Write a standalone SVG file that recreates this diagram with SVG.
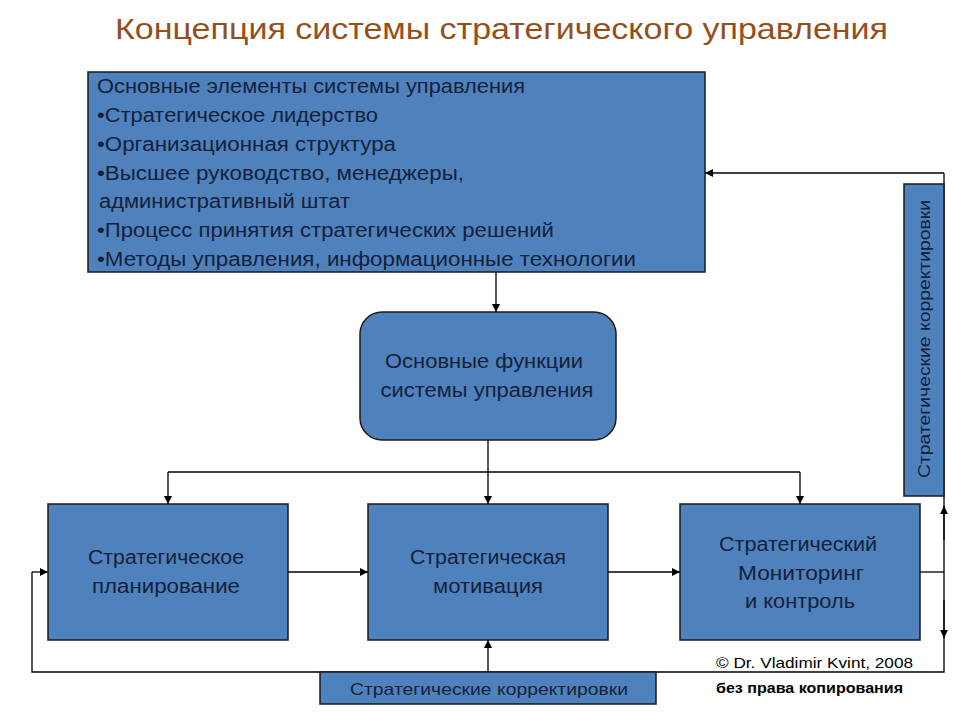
<svg xmlns="http://www.w3.org/2000/svg" width="960" height="720" viewBox="0 0 960 720">
<defs>
<style>
.box{fill:#4F81BD;stroke:#1a1a1a;stroke-width:1.5}
.t{font-family:"Liberation Sans",Arial,sans-serif;fill:#14213a}
.c{text-anchor:middle}
.ln{fill:none;stroke:#000;stroke-width:1.3}
.title{font-family:"Liberation Sans",Arial,sans-serif;font-size:30px;fill:#94501c}
.cp{font-family:"Liberation Sans",Arial,sans-serif;font-size:15px;fill:#000}
</style>
<marker id="ah" viewBox="0 0 10 10" refX="10" refY="5" markerWidth="8" markerHeight="8" markerUnits="userSpaceOnUse" orient="auto">
<path d="M0,0 L10,5 L0,10 z" fill="#000"/>
</marker>
</defs>
<rect width="960" height="720" fill="#fff"/>
<text class="title" x="115" y="39" textLength="773" lengthAdjust="spacingAndGlyphs">Концепция системы стратегического управления</text>

<g id="connectors">
<line class="ln" x1="496" y1="272" x2="496" y2="312" marker-end="url(#ah)"/>
<polyline class="ln" points="488,440 488,472"/>
<polyline class="ln" points="168,472 800,472"/>
<line class="ln" x1="168" y1="472" x2="168" y2="504" marker-end="url(#ah)"/>
<line class="ln" x1="488" y1="472" x2="488" y2="504" marker-end="url(#ah)"/>
<line class="ln" x1="800" y1="472" x2="800" y2="504" marker-end="url(#ah)"/>
<line class="ln" x1="288" y1="572" x2="368" y2="572" marker-end="url(#ah)"/>
<line class="ln" x1="608" y1="572" x2="680" y2="572" marker-end="url(#ah)"/>
<polyline class="ln" points="920,572 944,572"/>
<polyline class="ln" points="944,173 944,672 32,672 32,572"/>
<line class="ln" x1="944" y1="173" x2="705" y2="173" marker-end="url(#ah)"/>
<line class="ln" x1="32" y1="572" x2="48" y2="572" marker-end="url(#ah)"/>
<line class="ln" x1="944" y1="540" x2="944" y2="506" marker-end="url(#ah)"/>
<line class="ln" x1="944" y1="600" x2="944" y2="638" marker-end="url(#ah)"/>
<line class="ln" x1="488" y1="672" x2="488" y2="640" marker-end="url(#ah)"/>
</g>

<g id="elements">
<rect class="box" x="88" y="72" width="617" height="200"/>
<g class="t" font-size="19.5">
<text x="97" y="93" textLength="428" lengthAdjust="spacingAndGlyphs">Основные элементы системы управления</text>
<text x="97" y="122" textLength="281" lengthAdjust="spacingAndGlyphs">•Стратегическое лидерство</text>
<text x="97" y="151" textLength="299" lengthAdjust="spacingAndGlyphs">•Организационная структура</text>
<text x="97" y="180" textLength="367" lengthAdjust="spacingAndGlyphs">•Высшее руководство, менеджеры,</text>
<text x="99" y="208" textLength="251" lengthAdjust="spacingAndGlyphs">административный штат</text>
<text x="97" y="237" textLength="457" lengthAdjust="spacingAndGlyphs">•Процесс принятия стратегических решений</text>
<text x="97" y="266" textLength="539" lengthAdjust="spacingAndGlyphs">•Методы управления, информационные технологии</text>
</g>
</g>

<g id="functions">
<rect class="box" x="360" y="312" width="256" height="128" rx="22"/>
<text class="t c" font-size="19.5" x="484" y="368" textLength="198" lengthAdjust="spacingAndGlyphs">Основные функции</text>
<text class="t c" font-size="19.5" x="487" y="397" textLength="213" lengthAdjust="spacingAndGlyphs">системы управления</text>
</g>

<g id="planning">
<rect class="box" x="48" y="504" width="240" height="136"/>
<text class="t c" font-size="19.5" x="166" y="564" textLength="156" lengthAdjust="spacingAndGlyphs">Стратегическое</text>
<text class="t c" font-size="19.5" x="166" y="593" textLength="148" lengthAdjust="spacingAndGlyphs">планирование</text>
</g>

<g id="motivation">
<rect class="box" x="368" y="504" width="240" height="136"/>
<text class="t c" font-size="19.5" x="488" y="564" textLength="156" lengthAdjust="spacingAndGlyphs">Стратегическая</text>
<text class="t c" font-size="19.5" x="488" y="593" textLength="110" lengthAdjust="spacingAndGlyphs">мотивация</text>
</g>

<g id="monitoring">
<rect class="box" x="680" y="504" width="240" height="136"/>
<text class="t c" font-size="19.5" x="798" y="551" textLength="158" lengthAdjust="spacingAndGlyphs">Стратегический</text>
<text class="t c" font-size="19.5" x="801" y="580" textLength="126" lengthAdjust="spacingAndGlyphs">Мониторинг</text>
<text class="t c" font-size="19.5" x="800" y="608" textLength="110" lengthAdjust="spacingAndGlyphs">и контроль</text>
</g>

<g id="corrections-right">
<rect class="box" x="904" y="184" width="40" height="312"/>
<text class="t c" font-size="17" transform="translate(930,339) rotate(-90)" textLength="278" lengthAdjust="spacingAndGlyphs">Стратегические  корректировки</text>
</g>

<g id="corrections-bottom">
<rect class="box" x="320" y="672" width="336" height="32"/>
<text class="t c" font-size="17" x="489" y="695" textLength="278" lengthAdjust="spacingAndGlyphs">Стратегические  корректировки</text>
</g>

<g id="copyright">
<text class="cp" x="716" y="668" textLength="197" lengthAdjust="spacingAndGlyphs">© Dr. Vladimir Kvint, 2008</text>
<text class="cp" x="716" y="693" font-weight="bold" textLength="187" lengthAdjust="spacingAndGlyphs">без права копирования</text>
</g>
</svg>
